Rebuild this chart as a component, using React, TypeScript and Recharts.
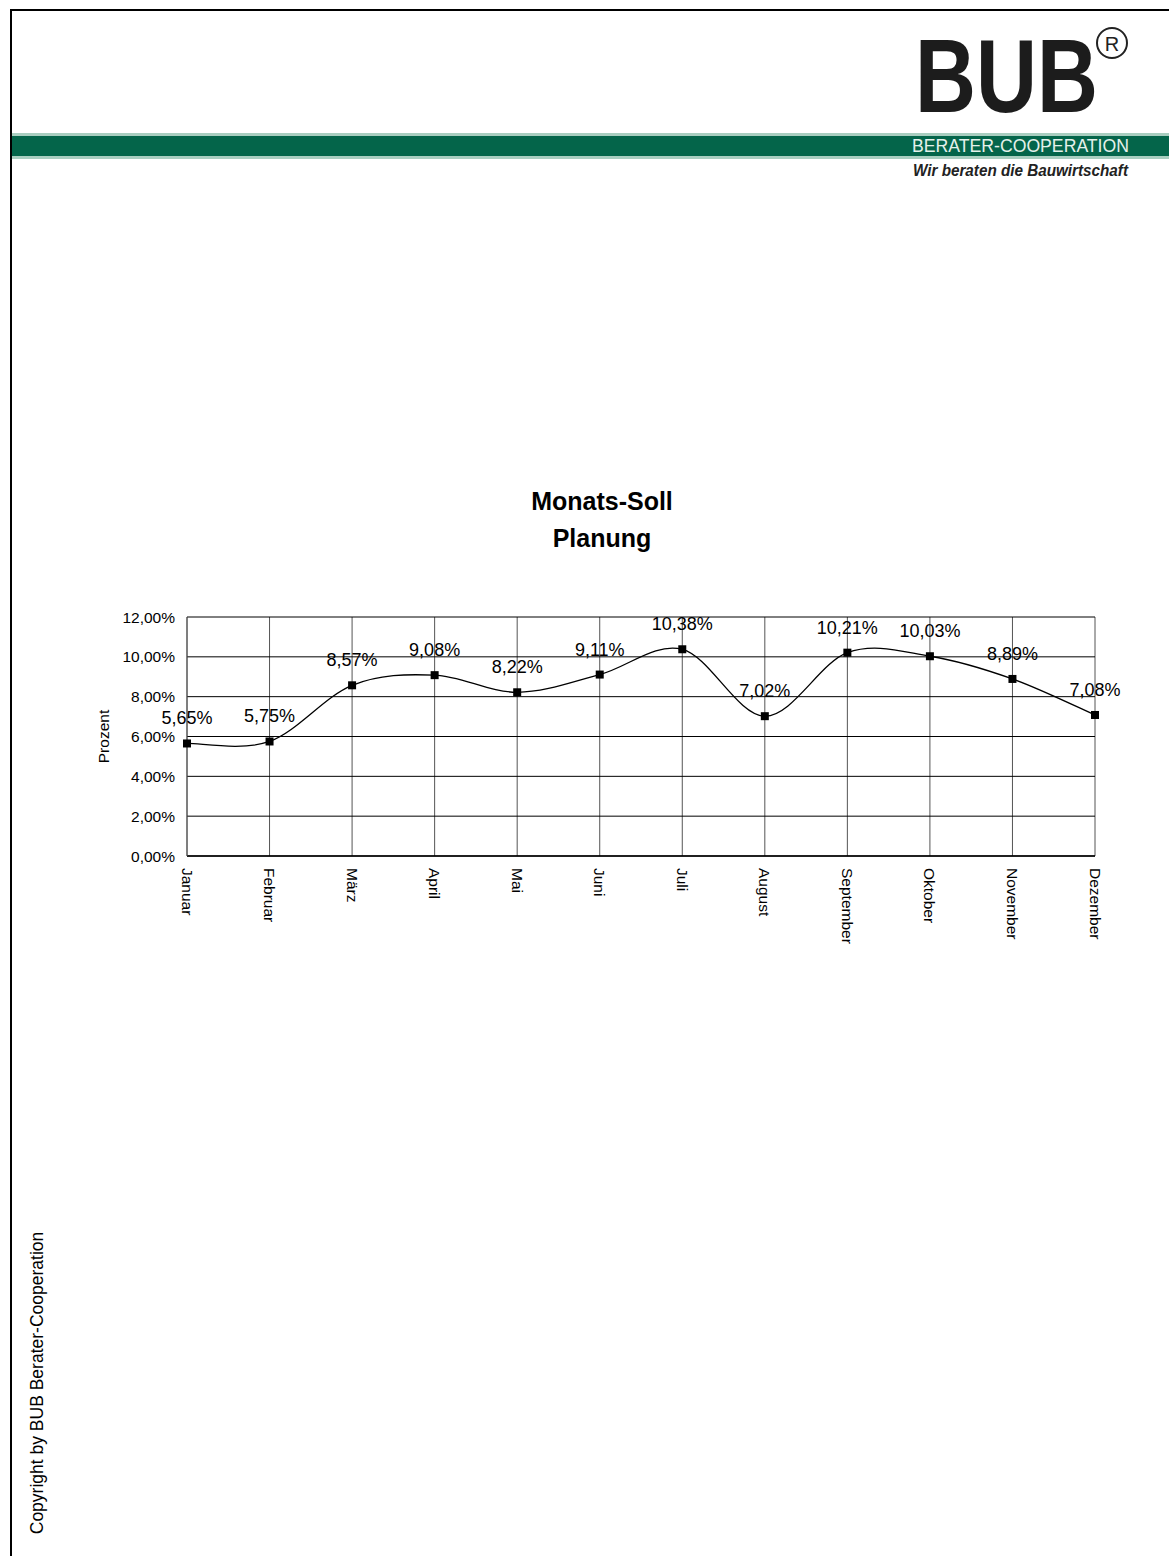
import { LineChart, Line, XAxis, YAxis, CartesianGrid, LabelList } from "recharts";

// Monats-Soll Planung – share of the year per month (%)
const months = [
  "Januar", "Februar", "März", "April", "Mai", "Juni",
  "Juli", "August", "September", "Oktober", "November", "Dezember",
];
const planValues = [5.65, 5.75, 8.57, 9.08, 8.22, 9.11, 10.38, 7.02, 10.21, 10.03, 8.89, 7.08];
const yTicks = [0, 2, 4, 6, 8, 10, 12];

const FONT = "'Liberation Sans', Arial, Helvetica, sans-serif";

const data = months.map((m, i) => ({ month: m, idx: i, value: planValues[i] }));
// small ticks half way between the months
const minorTicks = months.slice(1).map((_, i) => i + 0.5);

const fmt = (v: number) => `${v.toFixed(2).replace(".", ",")}%`;

// Excel-like smoothed line (Catmull-Rom through every point)
const excelSmooth = (context: any) => {
  let pts: number[][] = [];
  return {
    areaStart() {},
    areaEnd() {},
    lineStart() {
      pts = [];
    },
    point(x: number, y: number) {
      pts.push([+x, +y]);
    },
    lineEnd() {
      const n = pts.length;
      if (!n) return;
      context.moveTo(pts[0][0], pts[0][1]);
      for (let i = 0; i < n - 1; i++) {
        const p0 = pts[Math.max(i - 1, 0)];
        const p1 = pts[i];
        const p2 = pts[i + 1];
        const p3 = pts[Math.min(i + 2, n - 1)];
        context.bezierCurveTo(
          p1[0] + (p2[0] - p0[0]) / 6,
          p1[1] + (p2[1] - p0[1]) / 6,
          p2[0] - (p3[0] - p1[0]) / 6,
          p2[1] - (p3[1] - p1[1]) / 6,
          p2[0],
          p2[1]
        );
      }
    },
  };
};

const SquareDot = (props: any) => {
  const { cx, cy } = props;
  if (cx == null || cy == null) return null;
  return <rect x={cx - 4} y={cy - 4} width={8} height={8} fill="#000" />;
};

const MonthTick = (props: any) => {
  const { x, y, payload } = props;
  return (
    <g transform={`translate(${x},${y})`}>
      <text transform="rotate(90)" x={12} y={0} dy="0.35em" textAnchor="start" fontSize={15.5} fill="#000" fontFamily={FONT}>
        {payload.value}
      </text>
    </g>
  );
};

const ValueLabel = (props: any) => {
  const { x, y, value } = props;
  return (
    <text x={x} y={y - 19} textAnchor="middle" fontSize={18} fill="#000" fontFamily={FONT}>
      {fmt(value)}
    </text>
  );
};

const Page = () => (
  <svg width={1169} height={1556} style={{ position: "absolute", left: 0, top: 0 }} fontFamily={FONT}>
    {/* frame */}
    <rect x={10} y={9} width={1159} height={2} fill="#000" />
    <rect x={10} y={9} width={2} height={1547} fill="#000" />
    {/* green band */}
    <rect x={12} y={133} width={1157} height={26} fill="#a9cec0" />
    <rect x={12} y={136} width={1157} height={20} fill="#04654a" />
    {/* logo */}
    <text transform="translate(915,112) scale(0.82,1)" fontSize={103} fontWeight="bold" fill="#1c1c1c">
      BUB
    </text>
    <circle cx={1112} cy={43} r={15} fill="none" stroke="#222" strokeWidth={2} />
    <text x={1112} y={50.5} fontSize={20} textAnchor="middle" fill="#222">R</text>
    <text x={912} y={152} fontSize={19} fill="#e4f1eb" textLength={217} lengthAdjust="spacingAndGlyphs">
      BERATER-COOPERATION
    </text>
    <text x={913} y={176} fontSize={16} fontWeight="bold" fontStyle="italic" fill="#222" textLength={215} lengthAdjust="spacingAndGlyphs">
      Wir beraten die Bauwirtschaft
    </text>
    {/* copyright */}
    <text x={37} y={1383} transform="rotate(-90 37 1383)" textAnchor="middle" dominantBaseline="central" fontSize={17.5} fill="#000">
      Copyright by BUB Berater-Cooperation
    </text>
  </svg>
);

export default function App() {
  return (
    <div style={{ position: "absolute", left: 0, top: 0, width: 1169, height: 1556, background: "#fff", overflow: "hidden", fontFamily: FONT }}>
      <Page />
      <div style={{ position: "absolute", left: 452, top: 487, width: 300, textAlign: "center", fontSize: 25, fontWeight: "bold", lineHeight: "29px" }}>
        Monats-Soll
      </div>
      <div style={{ position: "absolute", left: 452, top: 524, width: 300, textAlign: "center", fontSize: 25, fontWeight: "bold", lineHeight: "29px" }}>
        Planung
      </div>
      <div style={{ position: "absolute", left: 0, top: 560 }}>
        <LineChart width={1169} height={400} data={data} margin={{ top: 57, right: 74, left: 107, bottom: 4 }} style={{ fontFamily: FONT }}>
          <CartesianGrid horizontal={false} vertical stroke="#555" strokeWidth={1} />
          <CartesianGrid horizontal vertical={false} stroke="#000" strokeWidth={1} />
          <XAxis
            dataKey="month"
            scale="point"
            padding={{ left: 0, right: 0 }}
            interval={0}
            height={100}
            tickSize={0}
            tickMargin={0}
            tickLine={false}
            axisLine={{ stroke: "#000", strokeWidth: 1.5 }}
            tick={<MonthTick />}
          />
          <XAxis
            xAxisId="minor"
            dataKey="idx"
            type="number"
            domain={[0, 11]}
            ticks={minorTicks}
            mirror
            height={0}
            tickSize={5}
            axisLine={false}
            tickLine={{ stroke: "#000", strokeWidth: 1 }}
            tickFormatter={() => ""}
          />
          <YAxis
            domain={[0, 12]}
            ticks={yTicks}
            width={80}
            tickSize={0}
            tickMargin={12}
            tickLine={false}
            axisLine={{ stroke: "#555" }}
            tickFormatter={fmt}
            tick={{ fontSize: 15.5, fill: "#000", fontFamily: FONT }}
            label={{
              content: (p: any) => {
                const vb = p.viewBox || { x: 107, y: 57, height: 239 };
                const cx = vb.x - 4;
                const cy = vb.y + vb.height / 2;
                return (
                  <text x={cx} y={cy} transform={`rotate(-90 ${cx} ${cy})`} textAnchor="middle" dominantBaseline="central" fontSize={15.5} fill="#000" fontFamily={FONT}>
                    Prozent
                  </text>
                );
              },
            }}
          />
          <Line
            dataKey="value"
            type={excelSmooth as any}
            stroke="#000"
            strokeWidth={1.3}
            dot={<SquareDot />}
            activeDot={false}
            isAnimationActive={false}
          >
            <LabelList dataKey="value" content={<ValueLabel />} />
          </Line>
        </LineChart>
      </div>
    </div>
  );
}
